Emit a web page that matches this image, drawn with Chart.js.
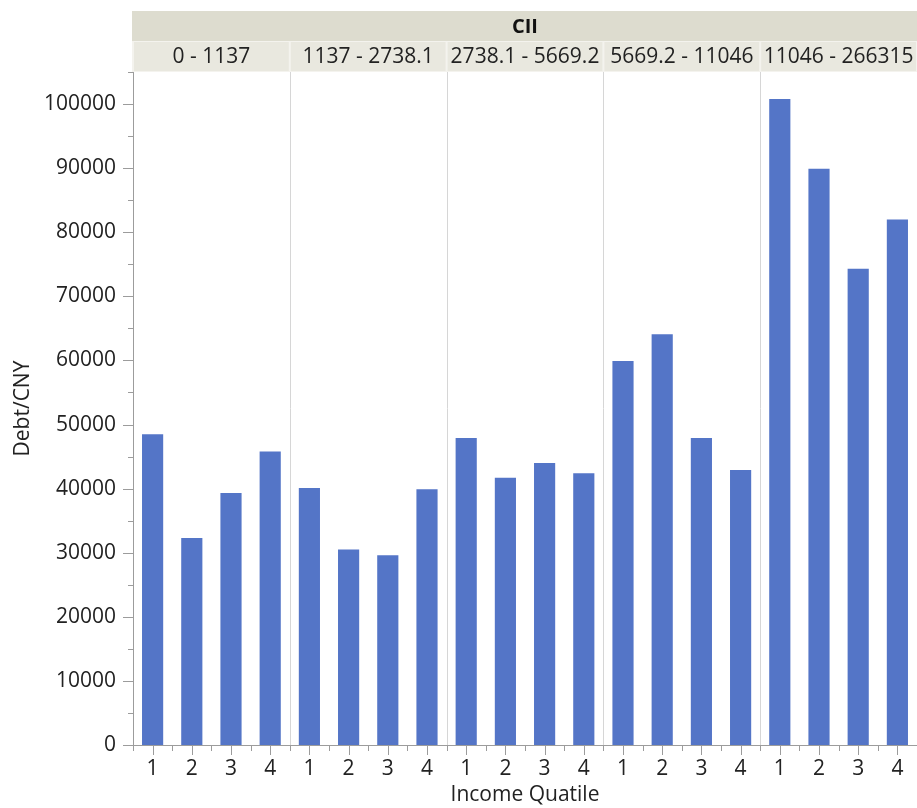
<!DOCTYPE html>
<html>
<head>
<meta charset="utf-8">
<script src="https://cdn.jsdelivr.net/npm/chart.js"></script>
<style>
  body { margin: 0; background: #fff; }
  canvas { display: block; }
</style>
</head>
<body>
<canvas id="bar_chart" width="917" height="808"></canvas>
<script>
// CII bands (one panel each) and income quartiles inside them
const panelLabels = ['0 - 1137', '1137 - 2738.1', '2738.1 - 5669.2', '5669.2 - 11046', '11046 - 266315'];
const quartiles = ['1', '2', '3', '4'];

// mean debt per quartile
const debtBand1 = [48500, 32300, 39300, 45800];
const debtBand2 = [40100, 30500, 29600, 39900];
const debtBand3 = [47900, 41700, 44000, 42400];
const debtBand4 = [59900, 64100, 47900, 42900];
const debtBand5 = [100800, 89900, 74300, 82000];

const yTicks = [0, 10000, 20000, 30000, 40000, 50000, 60000, 70000, 80000, 90000, 100000];

const allDebt = [].concat(debtBand1, debtBand2, debtBand3, debtBand4, debtBand5);
const xLabels = [];
panelLabels.forEach(() => quartiles.forEach(q => xLabels.push(q)));

const FONT = '"Open Sans", "Noto Sans", sans-serif';
const FSIZE = 21;
const AXIS_GREY = '#9c9c9c';

// header strips, panel separators and tick marks
const facetPlugin = {
    id: 'facets',
    afterDraw(chart) {
        const ctx = chart.ctx;
        const area = chart.chartArea;
        const x = chart.scales.x;
        const y = chart.scales.y;
        const n = quartiles.length;

        // boundaries between panels
        const bounds = [area.left];
        for (let k = 1; k < panelLabels.length; k++) {
            bounds.push((x.getPixelForValue(k * n - 1) + x.getPixelForValue(k * n)) / 2);
        }
        bounds.push(chart.width);

        ctx.save();
        // top strip "CII"
        ctx.fillStyle = '#dddccf';
        ctx.fillRect(area.left - 1, 11, chart.width - area.left + 1, 30);
        ctx.fillStyle = '#111';
        ctx.font = 'bold 20px ' + FONT;
        ctx.textAlign = 'center';
        ctx.textBaseline = 'middle';
        ctx.fillText('CII', (area.left + area.right) / 2, 27);

        // sub strips
        ctx.fillStyle = '#f4f3ee';
        ctx.fillRect(area.left - 1, 41, chart.width - area.left + 1, 31);
        ctx.font = FSIZE + 'px ' + FONT;
        for (let k = 0; k < panelLabels.length; k++) {
            ctx.fillStyle = '#e9e8df';
            ctx.fillRect(bounds[k] + 1, 42, bounds[k + 1] - bounds[k] - 2, 29);
            ctx.fillStyle = '#222';
            ctx.fillText(panelLabels[k], (bounds[k] + bounds[k + 1]) / 2, 57);
        }

        // panel separators
        ctx.strokeStyle = '#d6d6d6';
        ctx.lineWidth = 1;
        for (let k = 1; k < panelLabels.length; k++) {
            const bx = Math.round(bounds[k]) + 0.5;
            ctx.beginPath();
            ctx.moveTo(bx, area.top);
            ctx.lineTo(bx, area.bottom);
            ctx.stroke();
        }

        // y tick marks (major every 10000, minor every 5000)
        ctx.strokeStyle = AXIS_GREY;
        for (let v = 0; v <= y.max; v += 5000) {
            const py = Math.round(y.getPixelForValue(v)) + 0.5;
            const len = v % 10000 === 0 ? 10 : 5;
            ctx.beginPath();
            ctx.moveTo(area.left - len, py);
            ctx.lineTo(area.left, py);
            ctx.stroke();
        }

        // x tick marks (major at bars, minor between)
        for (let i = 0; i < xLabels.length; i++) {
            const px = Math.round(x.getPixelForValue(i)) + 0.5;
            ctx.beginPath();
            ctx.moveTo(px, area.bottom);
            ctx.lineTo(px, area.bottom + 10);
            ctx.stroke();
            if (i > 0) {
                const mx = Math.round((x.getPixelForValue(i - 1) + x.getPixelForValue(i)) / 2) + 0.5;
                ctx.beginPath();
                ctx.moveTo(mx, area.bottom);
                ctx.lineTo(mx, area.bottom + 6);
                ctx.stroke();
            }
        }
        const first = Math.round(area.left) + 0.5;
        ctx.beginPath();
        ctx.moveTo(first, area.bottom);
        ctx.lineTo(first, area.bottom + 6);
        ctx.stroke();
        ctx.restore();
    }
};

const BarChartConfig = {
    type: 'bar',
    data: {
        labels: xLabels,
        datasets: [{
            label: 'Debt/CNY',
            data: allDebt,
            backgroundColor: '#5475c7',
            borderWidth: 0,
            categoryPercentage: 1,
            barPercentage: 0.54
        }]
    },
    options: {
        responsive: false,
        animation: false,
        layout: { padding: { top: 72, left: 0, right: 0, bottom: 0 } },
        plugins: {
            legend: { display: false },
            tooltip: { enabled: false }
        },
        scales: {
            x: {
                grid: { display: false, drawTicks: false },
                border: { display: true, color: AXIS_GREY },
                ticks: { color: '#222', font: { family: FONT, size: FSIZE }, padding: 11, maxRotation: 0, autoSkip: false },
                title: { display: true, text: 'Income Quatile', color: '#222', font: { family: FONT, size: FSIZE }, padding: { top: 0, bottom: 0 } },
                afterFit(scale) { scale.height = 63; }
            },
            y: {
                min: 0,
                max: 105000,
                grid: { display: false, drawTicks: false },
                border: { display: true, color: AXIS_GREY },
                afterBuildTicks(scale) {
                    scale.ticks = yTicks.map(v => ({ value: v }));
                },
                ticks: { color: '#222', font: { family: FONT, size: FSIZE }, padding: 17, callback: v => String(v) },
                title: { display: true, text: 'Debt/CNY', color: '#222', font: { family: FONT, size: FSIZE }, padding: { top: 10, bottom: 0 } },
                afterFit(scale) { scale.width = 133; }
            }
        }
    },
    plugins: [facetPlugin]
};

// === display chart ===
var myBarChart = new Chart(
    document.getElementById('bar_chart'),
    BarChartConfig
);
</script>
</body>
</html>
